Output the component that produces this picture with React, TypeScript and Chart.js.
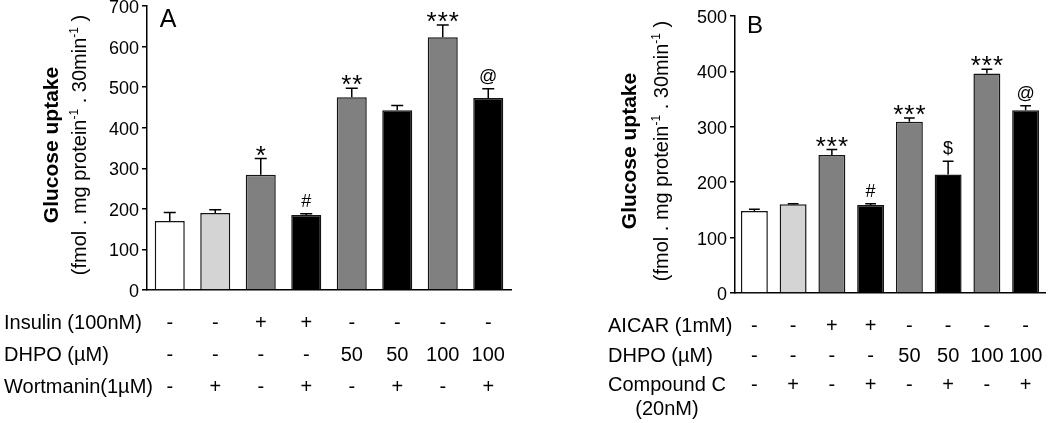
import React, { useEffect, useRef } from "react";
import { Chart, registerables } from "chart.js";

Chart.register(...registerables);

const FONT = '"Liberation Sans", Arial, Helvetica, sans-serif';

// ---- data ----
const barColors = ["#ffffff", "#d4d4d4", "#808080", "#000000", "#808080", "#000000", "#808080", "#000000"];

const valuesA = [170, 190, 284, 185, 475, 443, 623, 473];
const errorsA = [21, 8, 40, 3, 22, 12, 30, 23];
const marksA = ["", "", "*", "#", "**", "", "***", "@"];
const insulinRow = ["-", "-", "+", "+", "-", "-", "-", "-"];
const dhpoRowA = ["-", "-", "-", "-", "50", "50", "100", "100"];
const wortmaninRow = ["-", "+", "-", "+", "-", "+", "-", "+"];
const rowLabelsA = [["Insulin (100nM)"], ["DHPO (\u00b5M)"], ["Wortmanin(1\u00b5M)"]];
const yMaxA = 700;

const valuesB = [148, 160, 249, 159, 309, 214, 396, 330];
const errorsB = [3, 1, 10, 2, 7, 24, 8, 8];
const marksB = ["", "", "***", "#", "***", "$", "***", "@"];
const aicarRow = ["-", "-", "+", "+", "-", "-", "-", "-"];
const dhpoRowB = ["-", "-", "-", "-", "50", "50", "100", "100"];
const compoundCRow = ["-", "+", "-", "+", "-", "+", "-", "+"];
const rowLabelsB = [["AICAR (1mM)"], ["DHPO (\u00b5M)"], ["Compound C", "(20nM)"]];
const yMaxB = 500;
const yStep = 100;

const OFF = 20;
const H = 423 + OFF;

type PanelCfg = {
  values: number[];
  errors: number[];
  marks: string[];
  rows: string[][];
  rowLabels: string[][];
  yMax: number;
  letter: string;
  letterSize: number;
  letterX: number;
  letterBase: number;
  left: number;
  width: number;
  axisX: number;
  padRight: number;
  plotTop: number;
  plotBottom: number;
  tl: number;
  lh: number;
  barPct: number;
  rowLabelX: number;
  title1X: number;
  title2X: number;
  titleCY: number;
};

const panelA: PanelCfg = {
  values: valuesA,
  errors: errorsA,
  marks: marksA,
  rows: [insulinRow, dhpoRowA, wortmaninRow],
  rowLabels: rowLabelsA,
  yMax: yMaxA,
  letter: "A",
  letterSize: 25,
  letterX: 168,
  letterBase: 27,
  left: 0,
  width: 520,
  axisX: 147,
  padRight: 9,
  plotTop: 6,
  plotBottom: 290,
  tl: 17,
  lh: 32,
  barPct: 0.66,
  rowLabelX: 4,
  title1X: 58,
  title2X: 86,
  titleCY: 145,
};

const panelB: PanelCfg = {
  values: valuesB,
  errors: errorsB,
  marks: marksB,
  rows: [aicarRow, dhpoRowB, compoundCRow],
  rowLabels: rowLabelsB,
  yMax: yMaxB,
  letter: "B",
  letterSize: 24,
  letterX: 755,
  letterBase: 33,
  left: 520,
  width: 530,
  axisX: 735,
  padRight: 5,
  plotTop: 16,
  plotBottom: 293,
  tl: 19,
  lh: 29.5,
  barPct: 0.695,
  rowLabelX: 608,
  title1X: 636,
  title2X: 668,
  titleCY: 151,
};

function makePlugin(cfg: PanelCfg) {
  return {
    id: "decor" + cfg.letter,
    afterDraw(chart: any) {
      const ctx: CanvasRenderingContext2D = chart.ctx;
      const y = chart.scales.y;
      const area = chart.chartArea;
      const meta = chart.getDatasetMeta(0);
      const L = cfg.left;

      // error bars
      ctx.save();
      ctx.strokeStyle = "#000";
      ctx.lineWidth = 1.5;
      meta.data.forEach((bar: any, i: number) => {
        const top = y.getPixelForValue(cfg.values[i]);
        const et = y.getPixelForValue(cfg.values[i] + cfg.errors[i]);
        const half = bar.width * 0.2;
        ctx.beginPath();
        ctx.moveTo(bar.x, top);
        ctx.lineTo(bar.x, et);
        ctx.moveTo(bar.x - half, et);
        ctx.lineTo(bar.x + half, et);
        ctx.stroke();
      });
      ctx.restore();

      // significance marks
      ctx.save();
      ctx.fillStyle = "#000";
      ctx.textAlign = "center";
      ctx.textBaseline = "alphabetic";
      meta.data.forEach((bar: any, i: number) => {
        const m = cfg.marks[i];
        if (!m) return;
        const et = y.getPixelForValue(cfg.values[i] + cfg.errors[i]);
        if (m[0] === "*") {
          ctx.font = `26px ${FONT}`;
          (ctx as any).letterSpacing = "1px";
          ctx.fillText(m, bar.x + 0.5, et + 5);
        } else {
          ctx.font = `18px ${FONT}`;
          (ctx as any).letterSpacing = "0px";
          ctx.fillText(m, bar.x, et - 7);
        }
      });
      ctx.restore();

      // row labels of the treatment table
      ctx.save();
      ctx.fillStyle = "#000";
      ctx.font = `20px ${FONT}`;
      ctx.textBaseline = "middle";
      cfg.rowLabels.forEach((lines, r) => {
        const yy = area.bottom + cfg.tl + cfg.lh / 2 + r * cfg.lh;
        ctx.textAlign = "left";
        ctx.fillText(lines[0], cfg.rowLabelX - L, yy);
        if (lines[1]) {
          const w = ctx.measureText(lines[0]).width;
          ctx.textAlign = "center";
          ctx.fillText(lines[1], cfg.rowLabelX - L + w / 2, yy + 24);
        }
      });
      ctx.restore();

      // y axis title
      ctx.save();
      ctx.fillStyle = "#000";
      ctx.translate(cfg.title1X - L, cfg.titleCY + OFF);
      ctx.rotate(-Math.PI / 2);
      ctx.font = `bold 21px ${FONT}`;
      ctx.textAlign = "center";
      ctx.textBaseline = "alphabetic";
      ctx.fillText("Glucose uptake", 0, 0);
      ctx.restore();

      ctx.save();
      ctx.fillStyle = "#000";
      ctx.translate(cfg.title2X - L, cfg.titleCY + OFF);
      ctx.rotate(-Math.PI / 2);
      ctx.textAlign = "left";
      ctx.textBaseline = "alphabetic";
      const segs = [
        { t: "(fmol . mg protein", sup: false },
        { t: "-1", sup: true },
        { t: " . 30min", sup: false },
        { t: "-1", sup: true },
        { t: " )", sup: false },
      ];
      const fontN = `20px ${FONT}`;
      const fontS = `12px ${FONT}`;
      let total = 0;
      segs.forEach((s) => {
        ctx.font = s.sup ? fontS : fontN;
        total += ctx.measureText(s.t).width;
      });
      let x = -total / 2;
      segs.forEach((s) => {
        ctx.font = s.sup ? fontS : fontN;
        ctx.fillText(s.t, x, s.sup ? -8 : 0);
        x += ctx.measureText(s.t).width;
      });
      ctx.restore();

      // panel letter
      ctx.save();
      ctx.fillStyle = "#000";
      ctx.font = `${cfg.letterSize}px ${FONT}`;
      ctx.textAlign = "center";
      ctx.textBaseline = "alphabetic";
      ctx.fillText(cfg.letter, cfg.letterX - L, cfg.letterBase + OFF);
      ctx.restore();
    },
  };
}

function Panel({ cfg }: { cfg: PanelCfg }) {
  const ref = useRef<HTMLCanvasElement>(null);
  useEffect(() => {
    const labels = cfg.values.map((_, i) => cfg.rows.map((r) => r[i]));
    const chart = new Chart(ref.current as HTMLCanvasElement, {
      type: "bar",
      data: {
        labels,
        datasets: [
          {
            data: cfg.values,
            backgroundColor: barColors,
            borderColor: "#151515",
            borderWidth: 1.5,
            barPercentage: cfg.barPct,
            categoryPercentage: 1,
            borderSkipped: "bottom",
          },
        ],
      },
      options: {
        animation: false,
        responsive: false,
        events: [],
        layout: { padding: { top: cfg.plotTop + OFF, right: cfg.padRight, bottom: 0, left: 0 } },
        plugins: { legend: { display: false }, tooltip: { enabled: false }, title: { display: false } },
        scales: {
          x: {
            grid: { display: false, drawTicks: true, tickLength: cfg.tl },
            border: { display: true, color: "#000", width: 1.5 },
            ticks: {
              color: "#000",
              font: { family: FONT, size: 20, lineHeight: cfg.lh / 20 },
              padding: 0,
              maxRotation: 0,
              minRotation: 0,
              autoSkip: false,
            },
            afterFit: (s: any) => {
              s.height = H - (cfg.plotBottom + OFF);
            },
          },
          y: {
            min: 0,
            max: cfg.yMax,
            ticks: { stepSize: yStep, color: "#000", font: { family: FONT, size: 18 }, padding: 3, labelOffset: 2 },
            grid: { drawOnChartArea: false, drawTicks: true, tickLength: 5, color: "#000", lineWidth: 1.5 },
            border: { display: true, color: "#000", width: 1.5 },
            afterFit: (s: any) => {
              s.width = cfg.axisX - cfg.left;
            },
          },
        },
      } as any,
      plugins: [makePlugin(cfg)],
    });
    return () => chart.destroy();
  }, []);
  return (
    <canvas
      ref={ref}
      width={cfg.width}
      height={H}
      style={{ position: "absolute", left: cfg.left, top: -OFF, display: "block" }}
    />
  );
}

export default function App() {
  return (
    <div
      style={{
        position: "fixed",
        left: 0,
        top: 0,
        width: 1050,
        height: 423,
        overflow: "hidden",
        background: "#ffffff",
      }}
    >
      <Panel cfg={panelA} />
      <Panel cfg={panelB} />
    </div>
  );
}
